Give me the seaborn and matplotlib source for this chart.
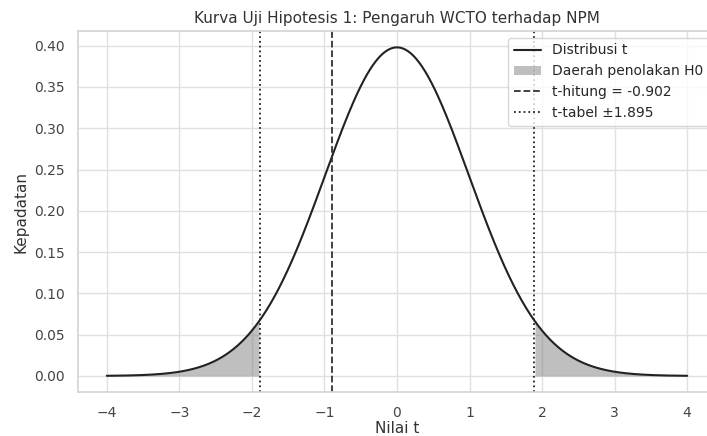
import math
import numpy as np
import pandas as pd
import matplotlib
matplotlib.use('Agg')
import matplotlib.pyplot as plt
import seaborn as sns

# nilai uji
df_t = 100
t_hitung = -0.902
t_tabel = 1.895
x_min, x_max = -4, 4

title = 'Kurva Uji Hipotesis 1: Pengaruh WCTO terhadap NPM'


def t_pdf(x, v):
    c = math.exp(math.lgamma((v + 1) / 2) - math.lgamma(v / 2)) / math.sqrt(v * math.pi)
    return c * (1 + x ** 2 / v) ** (-(v + 1) / 2)


x = np.linspace(x_min, x_max, 1000)
y = t_pdf(x, df_t)
kurva = pd.DataFrame({'t': x, 'densitas': y})

sns.set_theme(style='whitegrid', rc={'grid.color': '#e0e0e0', 'axes.edgecolor': '#d5d5d5'})
plt.rcParams['font.family'] = ['DejaVu Sans']

fig, ax = plt.subplots(figsize=(7.07, 4.36), dpi=100)
fig.subplots_adjust(left=0.110, right=1.013, top=0.929, bottom=0.10)

sns.lineplot(data=kurva, x='t', y='densitas', color='#222222', linewidth=1.5,
             label='Distribusi t', ax=ax)

kiri = kurva['t'] <= -t_tabel
kanan = kurva['t'] >= t_tabel
ax.fill_between(kurva['t'][kiri], kurva['densitas'][kiri], color='gray', alpha=0.5,
                linewidth=0, label='Daerah penolakan H0')
ax.fill_between(kurva['t'][kanan], kurva['densitas'][kanan], color='gray', alpha=0.5,
                linewidth=0)

ax.axvline(t_hitung, color='#333333', linestyle='--', linewidth=1.3,
           label=f't-hitung = {t_hitung:.3f}')
ax.axvline(-t_tabel, color='#222222', linestyle=':', linewidth=1.3,
           label=f't-tabel ±{t_tabel:.3f}')
ax.axvline(t_tabel, color='#222222', linestyle=':', linewidth=1.3)

ax.set_title(title, fontsize=11, color='#333333')
ax.set_xlabel('Nilai t', fontsize=11, labelpad=1, color='#333333')
ax.set_ylabel('Kepadatan', fontsize=11, color='#333333')
ax.tick_params(labelsize=10, labelcolor='#444444')
ax.legend(loc='upper right', fontsize=10)

fig.savefig('out.png', dpi=100)
